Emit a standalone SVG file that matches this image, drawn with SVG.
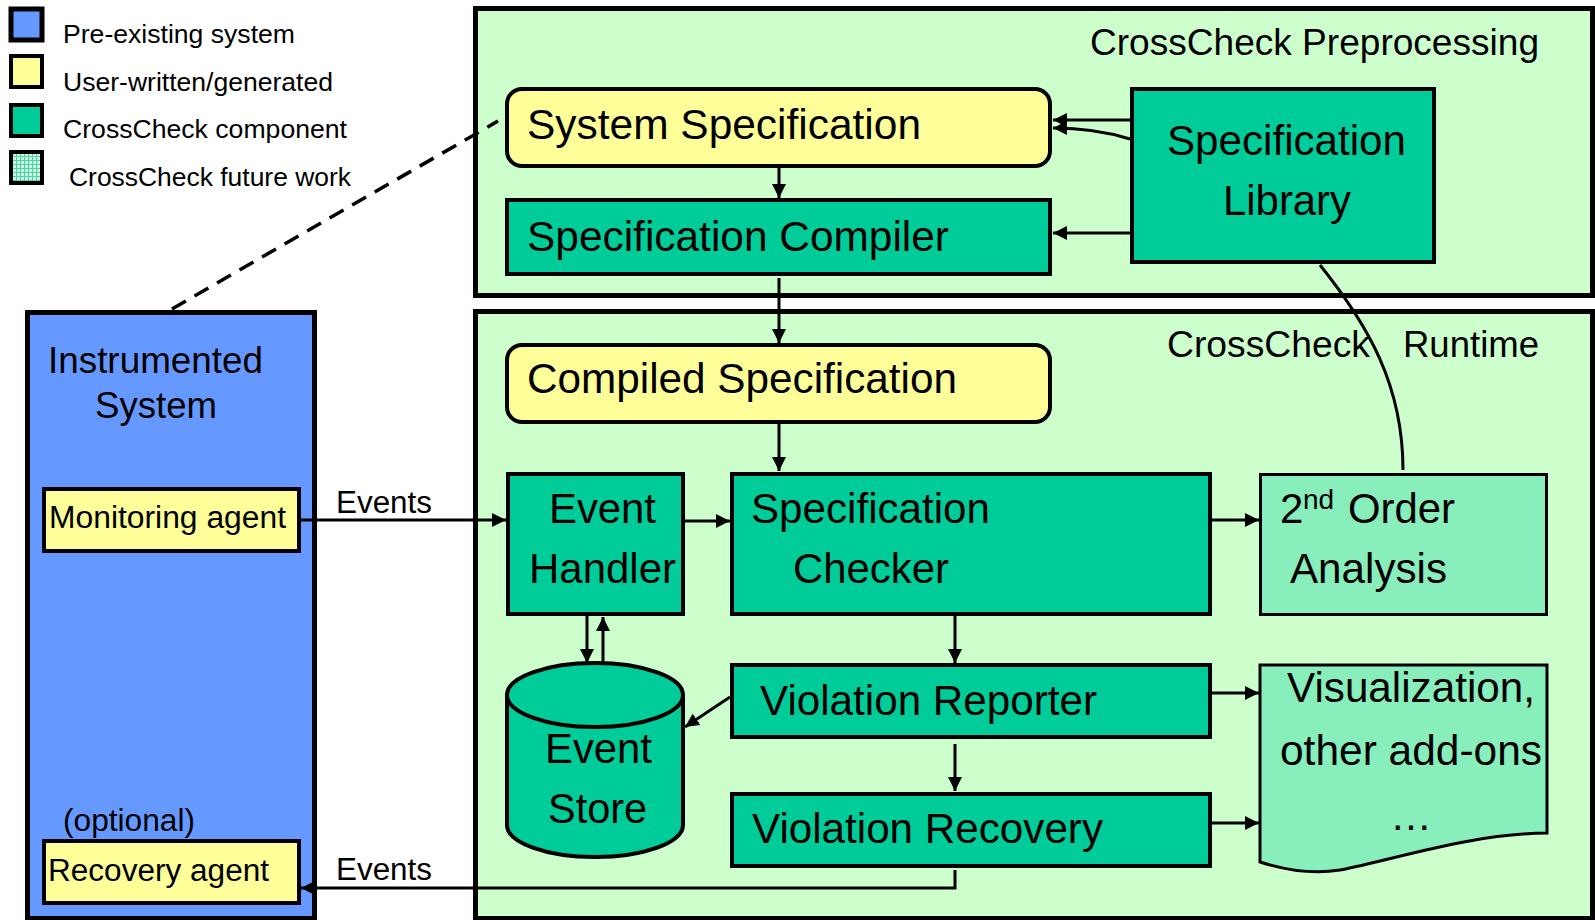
<svg xmlns="http://www.w3.org/2000/svg" width="1595" height="920" viewBox="0 0 1595 920">
  <style>
    text { font-family: "Liberation Sans", Arial, sans-serif; fill: #000; }
    .legend { font-size: 25px; }
    .big { font-size: 42px; }
    .mid { font-size: 31px; }
    .title { font-size: 36.5px; }
    .frame { fill: #CCFFCC; stroke: #000; stroke-width: 5; }
    .pre { fill: #6699FF; stroke: #000; stroke-width: 5; }
    .user { fill: #FFFF99; stroke: #000; stroke-width: 4; }
    .comp { fill: #00CC99; stroke: #000; stroke-width: 4; }
    .future { fill: #88EEBB; stroke: #000; stroke-width: 3; }
    .edge { fill: none; stroke: #000; stroke-width: 3; }
    .dash { fill: none; stroke: #000; stroke-width: 3.5; stroke-dasharray: 16 10; }
  </style>
  <defs>
    <marker id="arrow" markerUnits="userSpaceOnUse" markerWidth="15" markerHeight="15" refX="14" refY="7" orient="auto">
      <path d="M0,0 L14,7 L0,14 z" fill="#000"/>
    </marker>
    <pattern id="grid" width="4" height="4" patternUnits="userSpaceOnUse">
      <rect width="4" height="4" fill="#c9f5e3"/>
      <path d="M0,0.5 H4 M0.5,0 V4" stroke="#4fd3a5" stroke-width="1"/>
    </pattern>
  </defs>

  <rect width="1595" height="920" fill="#FFFFFF"/>

  <!-- legend -->
  <g id="legend">
    <rect x="11" y="9" width="31" height="31" class="pre" stroke-width="4"/>
    <rect x="11" y="56" width="31" height="31" class="user"/>
    <rect x="11" y="105" width="31" height="31" class="comp"/>
    <rect x="11" y="152" width="31" height="31" fill="url(#grid)" stroke="#000" stroke-width="4"/>
    <text class="legend" x="63" y="43" textLength="232" lengthAdjust="spacingAndGlyphs">Pre-existing system</text>
    <text class="legend" x="63" y="91" textLength="270" lengthAdjust="spacingAndGlyphs">User-written/generated</text>
    <text class="legend" x="63" y="138" textLength="284" lengthAdjust="spacingAndGlyphs">CrossCheck component</text>
    <text class="legend" x="69" y="186" textLength="282" lengthAdjust="spacingAndGlyphs">CrossCheck future work</text>
  </g>

  <!-- containers -->
  <g id="preprocessing">
    <rect x="475.5" y="8.5" width="1117" height="287" class="frame"/>
    <text class="title" x="1090" y="55" textLength="449" lengthAdjust="spacingAndGlyphs">CrossCheck Preprocessing</text>
  </g>
  <g id="runtime">
    <rect x="475.5" y="311.5" width="1117" height="607" class="frame"/>
    <text class="title" x="1167" y="357" textLength="203" lengthAdjust="spacingAndGlyphs">CrossCheck</text>
    <text class="title" x="1403" y="357" textLength="136" lengthAdjust="spacingAndGlyphs">Runtime</text>
  </g>
  <g id="instrumented-system">
    <rect x="27.5" y="312.5" width="287" height="606" class="pre"/>
    <text x="48" y="373" font-size="37" textLength="215" lengthAdjust="spacingAndGlyphs">Instrumented</text>
    <text x="95" y="418" font-size="37" textLength="122" lengthAdjust="spacingAndGlyphs">System</text>
  </g>

  <!-- connectors -->
  <g id="connectors">
    <path class="dash" d="M172,309 L498,121"/>
    <path class="edge" d="M779,168 V198" marker-end="url(#arrow)"/>
    <path class="edge" d="M1130,120 H1053" marker-end="url(#arrow)"/>
    <path class="edge" d="M1130,139 Q1095,128 1053,128" marker-end="url(#arrow)"/>
    <path class="edge" d="M1130,233 H1053" marker-end="url(#arrow)"/>
    <path class="edge" d="M779,278 V343" marker-end="url(#arrow)"/>
    <path class="edge" d="M1320,265 C1368,325 1403,385 1403,470"/>
    <path class="edge" d="M779,424 V471" marker-end="url(#arrow)"/>
    <path class="edge" d="M301,520 H506" marker-end="url(#arrow)"/>
    <path class="edge" d="M685,521 H730" marker-end="url(#arrow)"/>
    <path class="edge" d="M1211,520 H1259" marker-end="url(#arrow)"/>
    <path class="edge" d="M587,616 V663" marker-end="url(#arrow)"/>
    <path class="edge" d="M603,663 V617" marker-end="url(#arrow)"/>
    <path class="edge" d="M955,616 V663" marker-end="url(#arrow)"/>
    <path class="edge" d="M730,697 L685,727" marker-end="url(#arrow)"/>
    <path class="edge" d="M955,744 V791" marker-end="url(#arrow)"/>
    <path class="edge" d="M1212,693 H1259" marker-end="url(#arrow)"/>
    <path class="edge" d="M1212,823 H1259" marker-end="url(#arrow)"/>
    <path class="edge" d="M955,870 V888 H301" marker-end="url(#arrow)"/>
    <text class="mid" x="336" y="513" textLength="96" lengthAdjust="spacingAndGlyphs">Events</text>
    <text class="mid" x="336" y="880" textLength="96" lengthAdjust="spacingAndGlyphs">Events</text>
  </g>

  <!-- agents inside the instrumented system -->
  <g id="monitoring-agent">
    <rect x="44" y="489" width="255" height="62" class="user"/>
    <text class="mid" x="49" y="528" textLength="237" lengthAdjust="spacingAndGlyphs">Monitoring agent</text>
  </g>
  <g id="recovery-agent">
    <text class="mid" x="63" y="831" textLength="132" lengthAdjust="spacingAndGlyphs">(optional)</text>
    <rect x="44" y="841" width="255" height="62" class="user"/>
    <text class="mid" x="48" y="881" textLength="221" lengthAdjust="spacingAndGlyphs">Recovery agent</text>
  </g>

  <!-- preprocessing stage -->
  <g id="system-specification">
    <rect x="507" y="89" width="543" height="77" rx="15" class="user"/>
    <text class="big" x="527" y="139" textLength="394" lengthAdjust="spacingAndGlyphs">System Specification</text>
  </g>
  <g id="specification-compiler">
    <rect x="507" y="200" width="543" height="74" class="comp"/>
    <text class="big" x="527" y="251" textLength="422" lengthAdjust="spacingAndGlyphs">Specification Compiler</text>
  </g>
  <g id="specification-library">
    <rect x="1132" y="89" width="302" height="173" class="comp"/>
    <text class="big" x="1167" y="155" textLength="239" lengthAdjust="spacingAndGlyphs">Specification</text>
    <text class="big" x="1223" y="215" textLength="128" lengthAdjust="spacingAndGlyphs">Library</text>
  </g>

  <!-- runtime stage -->
  <g id="compiled-specification">
    <rect x="507" y="345" width="543" height="77" rx="15" class="user"/>
    <text class="big" x="527" y="393" textLength="430" lengthAdjust="spacingAndGlyphs">Compiled Specification</text>
  </g>
  <g id="event-handler">
    <rect x="508" y="474" width="175" height="140" class="comp"/>
    <text class="big" x="549" y="523" textLength="107" lengthAdjust="spacingAndGlyphs">Event</text>
    <text class="big" x="529" y="583" textLength="147" lengthAdjust="spacingAndGlyphs">Handler</text>
  </g>
  <g id="specification-checker">
    <rect x="732" y="474" width="478" height="140" class="comp"/>
    <text class="big" x="751" y="523" textLength="239" lengthAdjust="spacingAndGlyphs">Specification</text>
    <text class="big" x="793" y="583" textLength="156" lengthAdjust="spacingAndGlyphs">Checker</text>
  </g>
  <g id="second-order-analysis">
    <rect x="1260.5" y="474.5" width="286" height="140" class="future"/>
    <text class="big" x="1280" y="523">2</text>
    <text x="1303" y="509" font-size="28">nd</text>
    <text class="big" x="1348" y="523" textLength="107" lengthAdjust="spacingAndGlyphs">Order</text>
    <text class="big" x="1290" y="583" textLength="157" lengthAdjust="spacingAndGlyphs">Analysis</text>
  </g>
  <g id="event-store">
    <path d="M507,695 V825 A88,32 0 0 0 683,825 V695" class="comp"/>
    <ellipse cx="595" cy="695" rx="88" ry="32" class="comp"/>
    <text class="big" x="545" y="763" textLength="107" lengthAdjust="spacingAndGlyphs">Event</text>
    <text class="big" x="548" y="823" textLength="99" lengthAdjust="spacingAndGlyphs">Store</text>
  </g>
  <g id="violation-reporter">
    <rect x="732" y="665" width="478" height="72" class="comp"/>
    <text class="big" x="760" y="715" textLength="337" lengthAdjust="spacingAndGlyphs">Violation Reporter</text>
  </g>
  <g id="violation-recovery">
    <rect x="732" y="794" width="478" height="72" class="comp"/>
    <text class="big" x="752" y="843" textLength="351" lengthAdjust="spacingAndGlyphs">Violation Recovery</text>
  </g>
  <g id="visualization">
    <path d="M1260,665 H1547 V833 C1470,834 1400,858 1340,870 C1310,875 1282,869 1260,862 Z" class="future"/>
    <text class="big" x="1287" y="702" textLength="248" lengthAdjust="spacingAndGlyphs">Visualization,</text>
    <text class="big" x="1280" y="765" textLength="262" lengthAdjust="spacingAndGlyphs">other add-ons</text>
    <text class="big" x="1390" y="830">…</text>
  </g>
</svg>
